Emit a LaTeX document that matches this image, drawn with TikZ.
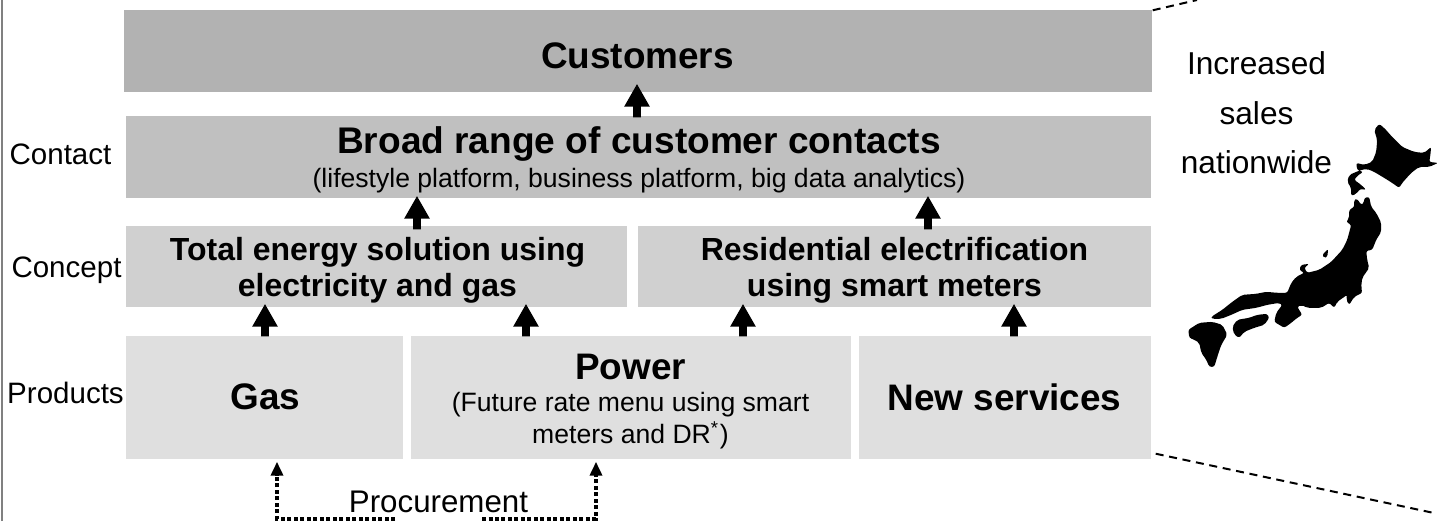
\documentclass[tikz,border=0pt]{standalone}
\usepackage{fontspec}
\setmainfont{Liberation Sans}
\usetikzlibrary{arrows.meta}
\definecolor{custgray}{HTML}{B2B2B2}
\definecolor{contactgray}{HTML}{C0C0C0}
\definecolor{conceptgray}{HTML}{D0D0D0}
\definecolor{productgray}{HTML}{DFDFDF}
\tikzset{
  levelbox/.style={inner sep=0pt},
  boxtext/.style={inner sep=0pt, align=center},
  sidelabel/.style={inner sep=0pt, align=center, font=\fontsize{8.4}{10}\selectfont},
  bigtext/.style={font=\fontsize{10.5}{12.5}\selectfont\bfseries},
  midtext/.style={font=\fontsize{9.1}{10.2}\selectfont\bfseries},
  blockarrow/.style={line width=.077cm, -{Triangle[width=.24cm,length=.23cm]}},
  smallhead/.style={line width=.04cm, -{Triangle[width=.12cm,length=.14cm]}},
  dotline/.style={line width=.04cm, dash pattern=on .04cm off .025cm},
  zoomline/.style={line width=.02cm, dash pattern=on .08cm off .057cm}
}
\begin{document}
\begin{tikzpicture}
          \useasboundingbox (0, 0) rectangle (14.48, 5.21);
          \draw[line width=.02cm, gray] (.02, 0) -- (.02, 5.21);
          \node[levelbox, fill=custgray, minimum width=10.28cm, minimum height=.82cm] (customers) at (6.38, 4.70) {};
          \node[levelbox, fill=contactgray, minimum width=10.25cm, minimum height=.82cm] (contact) at (6.385, 3.64) {};
          \node[levelbox, fill=conceptgray, minimum width=5.01cm, minimum height=.81cm] (totalenergy) at (3.765, 2.545) {};
          \node[levelbox, fill=conceptgray, minimum width=5.13cm, minimum height=.81cm] (residential) at (8.945, 2.545) {};
          \node[levelbox, fill=productgray, minimum width=2.77cm, minimum height=1.23cm] (gas) at (2.645, 1.235) {};
          \node[levelbox, fill=productgray, minimum width=4.40cm, minimum height=1.23cm] (power) at (6.31, 1.235) {};
          \node[levelbox, fill=productgray, minimum width=2.92cm, minimum height=1.23cm] (newservices) at (10.05, 1.235) {};
          %
          \node[boxtext, bigtext] (customerstext) at (6.375, 4.65) {Customers};
          \node[boxtext, font=\fontsize{7.56}{9}\selectfont] (contacttext) at (6.39, 3.61) {{\fontsize{10.55}{12}\selectfont\bfseries Broad range of customer contacts}\\[.6pt](lifestyle platform, business platform, big data analytics)};
          \node[boxtext, midtext] (totalenergytext) at (3.775, 2.505) {Total energy solution using\\electricity and gas};
          \node[boxtext, midtext] (residentialtext) at (8.945, 2.505) {Residential electrification\\using smart meters};
          \node[boxtext, bigtext] (gastext) at (2.655, 1.24) {Gas};
          \node[boxtext, font=\fontsize{7.56}{9.1}\selectfont] (powertext) at (6.305, 1.19) {{\fontsize{10.5}{12}\selectfont\bfseries Power}\\(Future rate menu using smart\\meters and DR\textsuperscript{*})};
          \node[boxtext, bigtext] (newservicestext) at (10.045, 1.24) {New services};
          %
          \node[sidelabel] (contactlabel) at (.605, 3.67) {Contact};
          \node[sidelabel] (conceptlabel) at (.665, 2.51) {Concept};
          \node[sidelabel] (productslabel) at (.655, 1.28) {Products};
          \node[inner sep=0pt, align=center, font=\fontsize{9}{14.1}\selectfont] (sales) at (12.565, 4.08) {Increased\\sales\\nationwide};
          \node[inner sep=0pt, font=\fontsize{8.9}{10}\selectfont] (procurement) at (4.385, .19) {Procurement};
          %
          \draw[blockarrow] ([xshift=-.015cm, yshift=-.02cm]contact.north) -- ([xshift=-.01cm, yshift=.09cm]customers.south);
          \draw[blockarrow] ([xshift=.405cm, yshift=-.04cm]totalenergy.north) -- ([xshift=-2.215cm, yshift=.03cm]contact.south);
          \draw[blockarrow] ([xshift=.335cm, yshift=-.04cm]residential.north) -- ([xshift=2.895cm, yshift=.03cm]contact.south);
          \draw[blockarrow] ([xshift=.005cm, yshift=-.01cm]gas.north) -- ([xshift=-1.115cm, yshift=.04cm]totalenergy.south);
          \draw[blockarrow] ([xshift=-1.05cm, yshift=-.01cm]power.north) -- ([xshift=1.495cm, yshift=.04cm]totalenergy.south);
          \draw[blockarrow] ([xshift=1.12cm, yshift=-.01cm]power.north) -- ([xshift=-1.515cm, yshift=.04cm]residential.south);
          \draw[blockarrow] ([xshift=.09cm, yshift=-.01cm]newservices.north) -- ([xshift=1.195cm, yshift=.04cm]residential.south);
          %
          \coordinate (gapleft) at (3.95, .025);
          \coordinate (gapright) at (4.82, .025);
          \coordinate (zoomtop) at (11.97, 5.21);
          \coordinate (zoombottom) at (14.34, .08);
          \draw[dotline] (gapleft) -- ([xshift=.125cm]gas.south |- gapleft) -- ([xshift=.125cm, yshift=-.14cm]gas.south);
          \draw[smallhead] ([xshift=.125cm, yshift=-.15cm]gas.south) -- ([xshift=.125cm, yshift=-.02cm]gas.south);
          \draw[dotline] (gapright) -- ([xshift=-.35cm]power.south |- gapright) -- ([xshift=-.35cm, yshift=-.14cm]power.south);
          \draw[smallhead] ([xshift=-.35cm, yshift=-.15cm]power.south) -- ([xshift=-.35cm, yshift=-.02cm]power.south);
          %
          \draw[zoomline] ([yshift=-.01cm]customers.north east) -- (zoomtop);
          \draw[zoomline] ([xshift=.04cm, yshift=.06cm]newservices.south east) -- (zoombottom);
          %
          \begin{scope}[shift={(0, 5.21)}, x=.01cm, y=-.01cm, rounded corners=.6pt]
            \fill (1375,130) -- (1380,124) -- (1385,128) -- (1393,137) -- (1403,147) -- (1415,152) -- (1425,153) -- (1432,147) -- (1431,157) -- (1430,162) -- (1439,163) -- (1430,167) -- (1420,167) -- (1412,173) -- (1403,183) -- (1400,188) -- (1393,183) -- (1385,178) -- (1375,172) -- (1368,169) -- (1362,170) -- (1357,172) -- (1350,175) -- (1348,182) -- (1352,188) -- (1352,196) -- (1357,194) -- (1361,189) -- (1367,190) -- (1362,185) -- (1355,180) -- (1358,176) -- (1364,172) -- (1358,170) -- (1357,163) -- (1365,165) -- (1373,162) -- (1377,152) -- (1378,140) -- cycle;
            \fill (1355,200) -- (1358,199) -- (1362,205) -- (1365,203) -- (1365,198) -- (1370,197) -- (1372,207) -- (1377,213) -- (1382,223) -- (1382,232) -- (1377,240) -- (1373,250) -- (1367,251) -- (1368,260) -- (1370,268) -- (1363,278) -- (1362,287) -- (1363,293) -- (1355,297) -- (1350,305) -- (1347,300) -- (1348,295) -- (1338,302) -- (1335,308) -- (1330,303) -- (1322,308) -- (1308,308) -- (1302,305) -- (1298,307) -- (1303,315) -- (1298,318) -- (1292,323) -- (1285,328) -- (1275,322) -- (1277,313) -- (1283,305) -- (1280,303) -- (1268,305) -- (1257,308) -- (1243,310) -- (1232,315) -- (1222,319) -- (1213,319) -- (1212,317) -- (1223,310) -- (1233,302) -- (1243,295) -- (1257,294) -- (1267,292) -- (1278,293) -- (1288,293) -- (1292,283) -- (1297,277) -- (1305,273) -- (1300,270) -- (1302,265) -- (1310,264) -- (1305,268) -- (1308,273) -- (1320,270) -- (1332,262) -- (1343,250) -- (1348,240) -- (1352,225) -- (1347,222) -- (1350,218) -- (1350,210) -- (1355,207) -- cycle;
            \fill (1233,327) -- (1238,320) -- (1250,318) -- (1258,315) -- (1268,314) -- (1270,318) -- (1265,325) -- (1255,328) -- (1245,332) -- (1240,338) -- (1235,335) -- cycle;
            \fill (1189,330) -- (1200,323) -- (1213,322) -- (1223,325) -- (1228,335) -- (1222,345) -- (1218,357) -- (1215,367) -- (1210,367) -- (1207,360) -- (1202,353) -- (1200,343) -- (1195,340) -- (1190,338) -- cycle;
            \fill (1323,255) -- (1329,249) -- (1328,257) -- (1325,258) -- cycle;
          \end{scope}
        \end{tikzpicture}
\end{document}
